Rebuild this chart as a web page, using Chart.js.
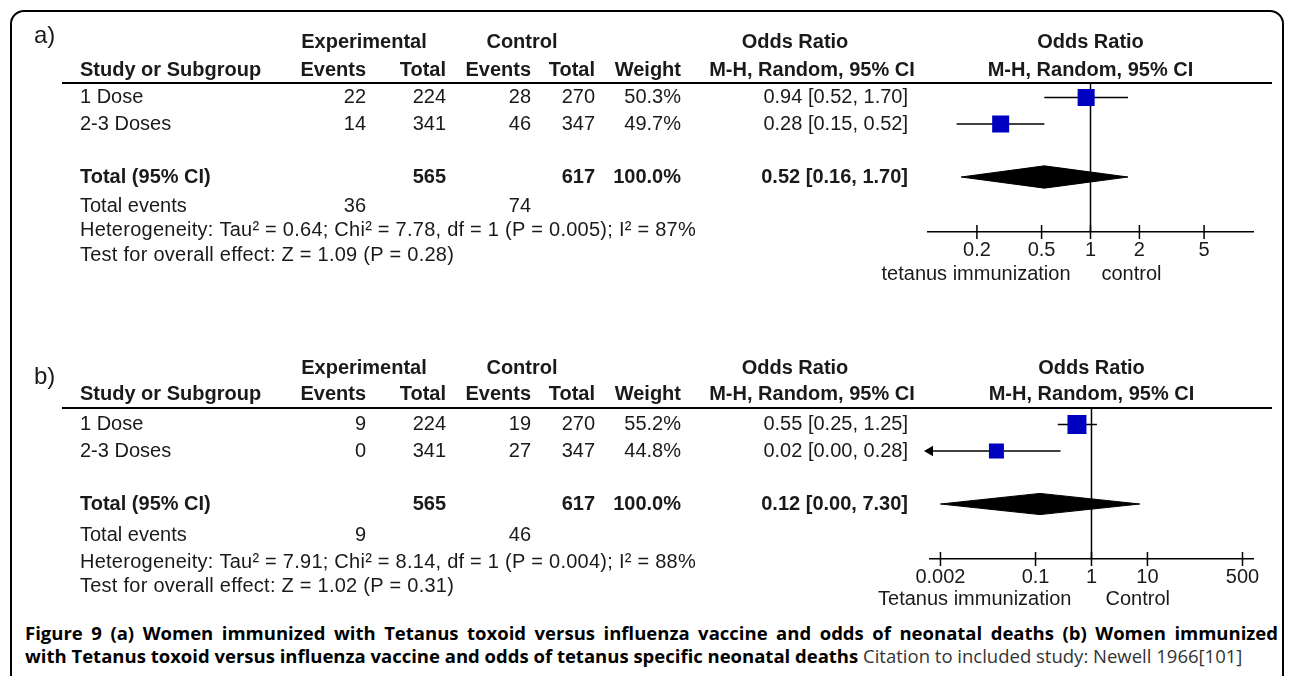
<!DOCTYPE html>
<html>
<head>
<meta charset="utf-8">
<script src="https://cdn.jsdelivr.net/npm/chart.js@4.4.0/dist/chart.umd.min.js"></script>
<style>
  body { margin: 0; background: #fff; width: 1292px; height: 676px; overflow: hidden; position: relative; }
  #frame { position: absolute; left: 10px; top: 10px; width: 1274px; height: 740px; border: 2px solid #000; border-radius: 14px; box-sizing: border-box; }
  canvas { position: absolute; left: 0; }
  #chartA { top: 0; }
  #chartB { top: 320px; }
  #caption { position: absolute; left: 25px; top: 621px; width: 1253px; font-family: "Open Sans", sans-serif; font-size: 18.5px; line-height: 23px; color: #000; }
  #caption .l1 { font-weight: 700; text-align: justify; text-align-last: justify; white-space: nowrap; }
  #caption .l2 { white-space: nowrap; }
  #caption .l2 b { font-weight: 700; }
  #caption .l2 span { color: #333; }
</style>
</head>
<body>
<div id="frame"></div>
<canvas id="chartA" width="1292" height="300"></canvas>
<canvas id="chartB" width="1292" height="300"></canvas>
<div id="caption">
  <div class="l1">Figure 9 (a) Women immunized with Tetanus toxoid versus influenza vaccine and odds of neonatal deaths (b) Women immunized</div>
  <div class="l2"><b>with Tetanus toxoid versus influenza vaccine and odds of tetanus specific neonatal deaths</b> <span>Citation to included study: Newell 1966[101]</span></div>
</div>
<script>
// ---- data: panel a (neonatal deaths) ----
const studiesA = ['1 Dose', '2-3 Doses'];
const expEventsA = [22, 14];
const expTotalA = [224, 341];
const ctlEventsA = [28, 46];
const ctlTotalA = [270, 347];
const weightA = [50.3, 49.7];
const orA = [0.94, 0.28];
const loA = [0.52, 0.15];
const hiA = [1.70, 0.52];
const totalA = [0.52, 0.16, 1.70]; // OR, lower, upper
const hetA = 'Heterogeneity: Tau\u00b2 = 0.64; Chi\u00b2 = 7.78, df = 1 (P = 0.005); I\u00b2 = 87%';
const testA = 'Test for overall effect: Z = 1.09 (P = 0.28)';
const ticksA = [0.2, 0.5, 1, 2, 5];
const tickLabelsA = ['0.2', '0.5', '1', '2', '5'];
const favoursA = ['tetanus immunization', 'control'];

// ---- data: panel b (tetanus specific neonatal deaths) ----
const studiesB = ['1 Dose', '2-3 Doses'];
const expEventsB = [9, 0];
const expTotalB = [224, 341];
const ctlEventsB = [19, 27];
const ctlTotalB = [270, 347];
const weightB = [55.2, 44.8];
const orB = [0.55, 0.02];
const loB = [0.25, 0.0003]; // shown as 0.00, runs off the axis (arrow)
const hiB = [1.25, 0.28];
const totalB = [0.12, 0.002, 7.30]; // lower shown as 0.00
const hetB = 'Heterogeneity: Tau\u00b2 = 7.91; Chi\u00b2 = 8.14, df = 1 (P = 0.004); I\u00b2 = 88%';
const testB = 'Test for overall effect: Z = 1.02 (P = 0.31)';
const ticksB = [0.002, 0.1, 1, 10, 500];
const tickLabelsB = ['0.002', '0.1', '1', '10', '500'];
const favoursB = ['Tetanus immunization', 'Control'];

// ---- look ----
const BLUE = '#0000c0';
const INK = '#1a1a1a';
const FONT = '"Liberation Sans", Arial, sans-serif';
const COLS = { name: 80, expEv: 366, expTot: 446, ctlEv: 531, ctlTot: 595, weight: 681, orRight: 908,
               expMid: 364, ctlMid: 522, orHead: 795, orSub: 812 };
const AXIS_H = 32; // fixed height of the x axis box (tick labels)

const panelA = {
  letter: 'a)', studies: studiesA, expEv: expEventsA, expTot: expTotalA, ctlEv: ctlEventsA, ctlTot: ctlTotalA,
  weight: weightA, or: orA, lo: loA, hi: hiA, total: totalA, het: hetA, test: testA,
  ticks: ticksA, tickLabels: tickLabelsA, favours: favoursA, xMin: 0.1, xMax: 10,
  layout: { pad: { left: 928, right: 39, top: 83, bottom: 68 - AXIS_H }, yMin: 0.453, yMax: 6.075,
            rows: { letter: -1.3, head1: -1.057, head2: -0.038, events: 5.094, het: 6.0, test: 6.943, fav: 7.66 },
            box: [17, 17], diamond: 0.42, favGap: [20, 11] }
};
const panelB = {
  letter: 'b)', studies: studiesB, expEv: expEventsB, expTot: expTotalB, ctlEv: ctlEventsB, ctlTot: ctlTotalB,
  weight: weightB, or: orB, lo: loB, hi: hiB, total: totalB, het: hetB, test: testB,
  ticks: ticksB, tickLabels: tickLabelsB, favours: favoursB, xMin: 0.0013, xMax: 770,
  layout: { pad: { left: 930, right: 39, top: 88, bottom: 61 - AXIS_H }, yMin: 0.377, yMax: 6.075,
            rows: { letter: -0.77, head1: -1.13, head2: -0.15, events: 5.17, het: 6.19, test: 7.13, fav: 7.62 },
            box: [19, 15], diamond: 0.4, favGap: [20, 14] }
};

function ci(or, lo, hi) {
  return or.toFixed(2) + ' [' + lo.toFixed(2) + ', ' + hi.toFixed(2) + ']';
}
const sum = a => a.reduce((s, v) => s + v, 0);

function tablePlugin(p) {
  return {
    id: 'forestTable',
    afterDraw(chart) {
      const ctx = chart.ctx;
      const ys = chart.scales.y, xs = chart.scales.x, area = chart.chartArea;
      const L = p.layout, R = L.rows;
      const Y = v => ys.getPixelForValue(v);
      const mid = (area.left + area.right) / 2;
      const t = (s, x, y, align, bold, size) => {
        ctx.font = (bold ? 'bold ' : '') + (size || 20) + 'px ' + FONT;
        ctx.textAlign = align;
        ctx.fillText(s, x, y);
      };
      ctx.save();
      ctx.fillStyle = INK;
      ctx.textBaseline = 'middle';

      t(p.letter, 34, Y(R.letter), 'left', false, 24);
      // header rows
      t('Experimental', COLS.expMid, Y(R.head1), 'center', true);
      t('Control', COLS.ctlMid, Y(R.head1), 'center', true);
      t('Odds Ratio', COLS.orHead, Y(R.head1), 'center', true);
      t('Odds Ratio', mid, Y(R.head1), 'center', true);
      t('Study or Subgroup', COLS.name, Y(R.head2), 'left', true);
      t('Events', COLS.expEv, Y(R.head2), 'right', true);
      t('Total', COLS.expTot, Y(R.head2), 'right', true);
      t('Events', COLS.ctlEv, Y(R.head2), 'right', true);
      t('Total', COLS.ctlTot, Y(R.head2), 'right', true);
      t('Weight', COLS.weight, Y(R.head2), 'right', true);
      t('M-H, Random, 95% CI', COLS.orSub, Y(R.head2), 'center', true);
      t('M-H, Random, 95% CI', mid, Y(R.head2), 'center', true);

      // rule under the header
      ctx.strokeStyle = '#000';
      ctx.lineWidth = 2;
      ctx.beginPath();
      ctx.moveTo(62, area.top);
      ctx.lineTo(1272, area.top);
      ctx.stroke();

      // study rows
      p.studies.forEach((s, i) => {
        const y = Y(i + 1);
        t(s, COLS.name, y, 'left');
        t(String(p.expEv[i]), COLS.expEv, y, 'right');
        t(String(p.expTot[i]), COLS.expTot, y, 'right');
        t(String(p.ctlEv[i]), COLS.ctlEv, y, 'right');
        t(String(p.ctlTot[i]), COLS.ctlTot, y, 'right');
        t(p.weight[i].toFixed(1) + '%', COLS.weight, y, 'right');
        t(ci(p.or[i], p.lo[i], p.hi[i]), COLS.orRight, y, 'right');
      });

      // pooled row
      const ty = Y(p.studies.length + 2);
      t('Total (95% CI)', COLS.name, ty, 'left', true);
      t(String(sum(p.expTot)), COLS.expTot, ty, 'right', true);
      t(String(sum(p.ctlTot)), COLS.ctlTot, ty, 'right', true);
      t(sum(p.weight).toFixed(1) + '%', COLS.weight, ty, 'right', true);
      t(ci(p.total[0], p.total[1], p.total[2]), COLS.orRight, ty, 'right', true);

      t('Total events', COLS.name, Y(R.events), 'left');
      t(String(sum(p.expEv)), COLS.expEv, Y(R.events), 'right');
      t(String(sum(p.ctlEv)), COLS.ctlEv, Y(R.events), 'right');
      ctx.letterSpacing = '0.25px';
      t(p.het, COLS.name, Y(R.het), 'left');
      t(p.test, COLS.name, Y(R.test), 'left');
      ctx.letterSpacing = '0px';

      // tick marks crossing the axis
      ctx.lineWidth = 1.5;
      ctx.beginPath();
      p.ticks.forEach(v => {
        const x = xs.getPixelForValue(v);
        ctx.moveTo(x, area.bottom - 7);
        ctx.lineTo(x, area.bottom + 7);
      });
      ctx.stroke();

      // favours labels
      const x1 = xs.getPixelForValue(1);
      t(p.favours[0], x1 - L.favGap[0], Y(R.fav), 'right');
      t(p.favours[1], x1 + L.favGap[1], Y(R.fav), 'left');
      ctx.restore();
    }
  };
}

function buildPanel(id, p) {
  const L = p.layout;
  const totalRow = p.studies.length + 2;
  const datasets = [];

  // line of no effect
  datasets.push({ data: [{ x: 1, y: L.yMin }, { x: 1, y: L.yMax }], showLine: true,
    borderColor: '#000', borderWidth: 1.5, pointRadius: 0, order: 3 });

  // confidence intervals
  p.studies.forEach((s, i) => {
    const offLeft = p.lo[i] < p.xMin;
    datasets.push({
      data: [{ x: Math.max(p.lo[i], p.xMin), y: i + 1 }, { x: Math.min(p.hi[i], p.xMax), y: i + 1 }],
      showLine: true, borderColor: '#000', borderWidth: 1.5,
      pointStyle: 'triangle', pointRotation: 270, pointRadius: [offLeft ? 6 : 0, 0],
      pointBackgroundColor: '#000', pointBorderColor: '#000', pointBorderWidth: 0,
      clip: 12, order: 2
    });
  });

  // study estimates
  datasets.push({
    data: p.or.map((v, i) => ({ x: v, y: i + 1 })),
    pointStyle: 'rect', pointRadius: L.box.map(s => s / Math.SQRT2),
    pointBackgroundColor: BLUE, pointBorderColor: BLUE, pointBorderWidth: 0, order: 0
  });

  // pooled diamond (upper half filled down to the lower half)
  const [tor, tlo, thi] = p.total;
  datasets.push({
    data: [{ x: tlo, y: totalRow }, { x: tor, y: totalRow - L.diamond }, { x: thi, y: totalRow }],
    showLine: true, fill: '+1', backgroundColor: '#000', borderColor: '#000', borderWidth: 1,
    pointRadius: 0, order: 1
  });
  datasets.push({
    data: [{ x: tlo, y: totalRow }, { x: tor, y: totalRow + L.diamond }, { x: thi, y: totalRow }],
    showLine: true, fill: false, borderColor: '#000', borderWidth: 1, pointRadius: 0, order: 1
  });

  return new Chart(document.getElementById(id), {
    type: 'scatter',
    data: { datasets },
    options: {
      responsive: false,
      animation: false,
      layout: { padding: L.pad },
      plugins: { legend: { display: false }, tooltip: { enabled: false } },
      scales: {
        x: {
          type: 'logarithmic', min: p.xMin, max: p.xMax, position: 'bottom',
          afterBuildTicks: s => { s.ticks = p.ticks.map(v => ({ value: v })); },
          afterFit: s => { s.height = AXIS_H; },
          grid: { display: false, drawTicks: false },
          border: { display: true, color: '#000', width: 1.5 },
          ticks: {
            autoSkip: false, maxRotation: 0, padding: 6, color: INK,
            font: { family: FONT, size: 20 },
            callback: v => p.tickLabels[p.ticks.indexOf(v)]
          }
        },
        y: { type: 'linear', reverse: true, min: L.yMin, max: L.yMax, display: false }
      }
    },
    plugins: [tablePlugin(p)]
  });
}

buildPanel('chartA', panelA);
buildPanel('chartB', panelB);
</script>
</body>
</html>
